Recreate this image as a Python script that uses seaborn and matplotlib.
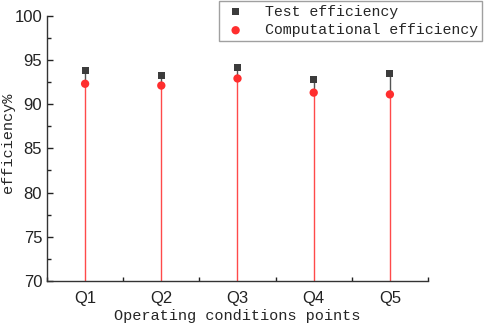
"""Test vs computational efficiency at the five operating points."""
import numpy as np
import pandas as pd
import seaborn as sns
from matplotlib import pyplot as plt
from matplotlib.ticker import MultipleLocator

points = ["Q1", "Q2", "Q3", "Q4", "Q5"]
test_eff = [93.8, 93.2, 94.1, 92.8, 93.5]
calc_eff = [92.3, 92.1, 92.9, 91.3, 91.1]

df = pd.DataFrame({"pos": np.arange(len(points)), "test": test_eff, "calc": calc_eff})

sns.set_style("ticks")
mono = ["Liberation Mono", "DejaVu Sans Mono"]
plt.rcParams["font.family"] = ["Liberation Sans", "DejaVu Sans"]

fig = plt.figure(figsize=(4.84, 3.23), dpi=100)
ax = fig.add_axes([0.0971, 0.130, 0.7872, 0.8215])

# stems: grey piece between the two values, red one from the floor to the computed value
ax.vlines(df["pos"], df["calc"], df["test"], color="#555555", lw=1.0, zorder=1)
ax.vlines(df["pos"], 70, df["calc"], color="#ff4a4a", lw=1.0, zorder=2)
sns.scatterplot(data=df, x="pos", y="test", marker="s", s=26, color="#3c3c3c",
                edgecolor="none", ax=ax, zorder=3, label="Test efficiency")
sns.scatterplot(data=df, x="pos", y="calc", marker="o", s=36, color="#ff2e2e",
                edgecolor="none", ax=ax, zorder=3, label="Computational efficiency")

ax.set_xlim(-0.5, 4.5)
ax.set_ylim(70, 100)
ax.set_xticks(df["pos"])
ax.set_xticklabels(points)
ax.xaxis.set_minor_locator(MultipleLocator(1, offset=0.5))
ax.yaxis.set_major_locator(MultipleLocator(5))
ax.yaxis.set_minor_locator(MultipleLocator(2.5))
ax.tick_params(axis="both", which="both", direction="in", colors="#222222")
ax.tick_params(axis="both", which="major", length=4, width=1, labelsize=12)
ax.tick_params(axis="both", which="minor", length=3, width=1)
ax.tick_params(axis="x", which="major", length=0, pad=7)
for side in ["top", "right"]:
    ax.spines[side].set_visible(False)
for side in ["left", "bottom"]:
    ax.spines[side].set_color("#333333")
    ax.spines[side].set_linewidth(1.0)

ax.set_xlabel("Operating conditions points", fontsize=11, family=mono, labelpad=2)
ax.set_ylabel("efficiency%", fontsize=11, family=mono)
ax.yaxis.set_label_coords(-0.085, 0.52)

handles, labels = ax.get_legend_handles_labels()
ax.get_legend().remove()
leg = fig.legend(handles, labels, loc="upper right", bbox_to_anchor=(0.996, 0.997),
                 prop={"family": mono, "size": 10.7}, frameon=True, fancybox=False,
                 borderpad=0.25, labelspacing=0.3, handletextpad=1.1,
                 handlelength=1.8, borderaxespad=0)
leg.get_frame().set_edgecolor("#888888")
leg.get_frame().set_linewidth(1.0)

fig.savefig("out.png", dpi=100)
